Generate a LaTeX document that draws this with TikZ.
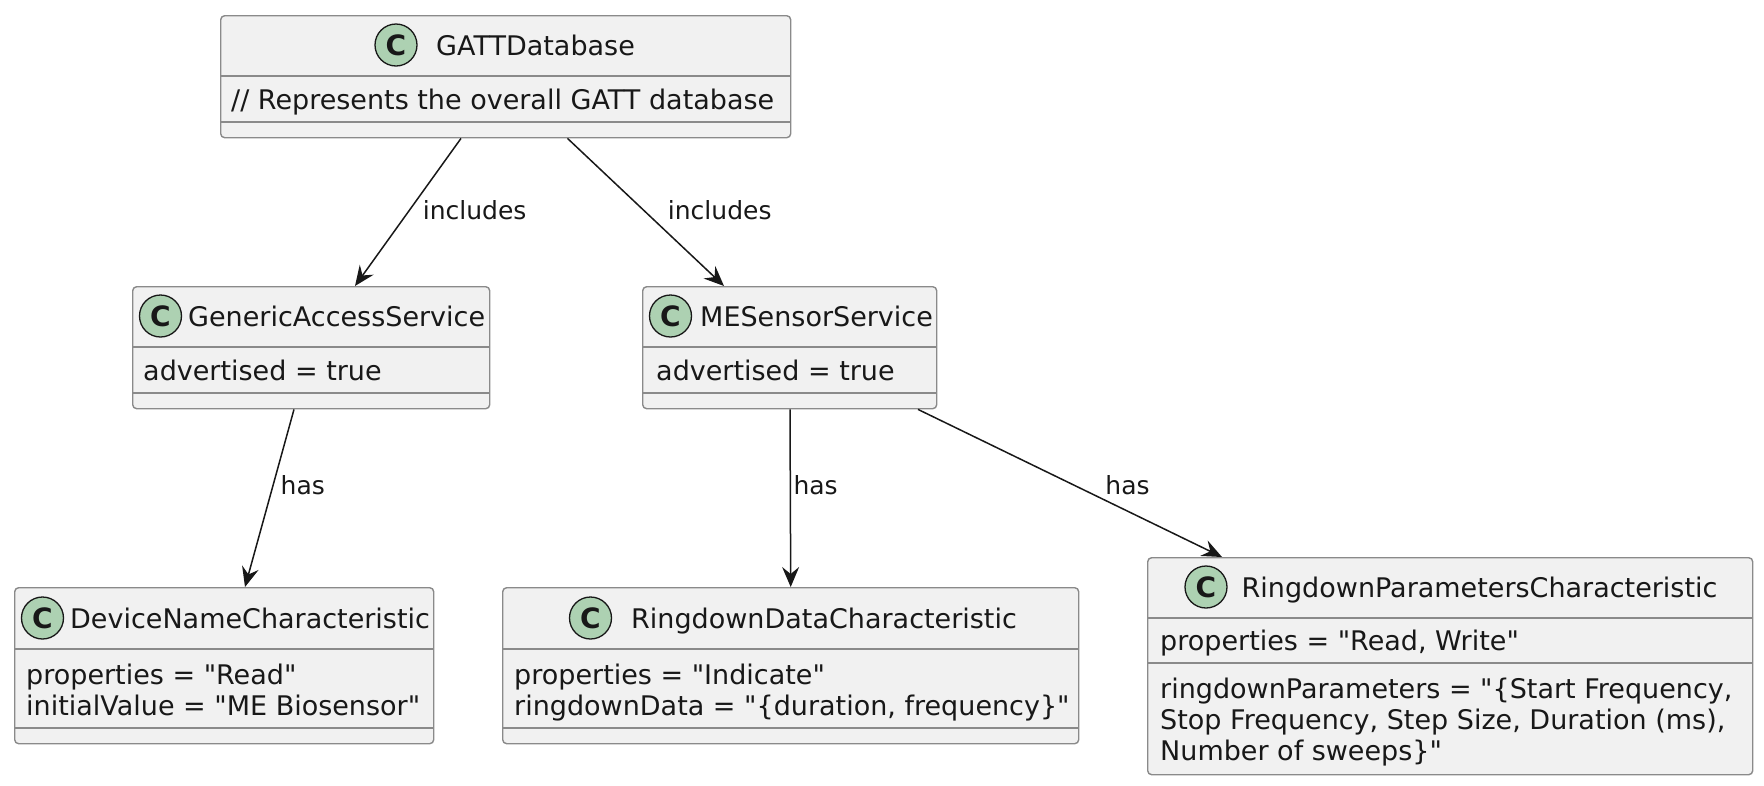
\documentclass[tikz,border=0pt]{standalone}
\usepackage{fontspec}
\setmainfont{DejaVu Sans}[Ligatures=TeXOff]
\usepackage{tikz}
\usetikzlibrary{arrows.meta,positioning}
\definecolor{boxfill}{HTML}{F1F1F1}
\definecolor{boxline}{HTML}{8A8A8A}
\definecolor{ink}{HTML}{181818}
\definecolor{classgreen}{HTML}{ADD1B2}
\tikzset{
  classbox/.style={draw=boxline, fill=boxfill, rounded corners=4pt, line width=1.4pt,
                   anchor=north west, inner sep=0pt},
  sepline/.style={draw=boxline, line width=1.4pt},
  badge/.style={circle, draw=ink, fill=classgreen, line width=1.3pt, minimum size=42pt,
                inner sep=0pt, font=\fontsize{28}{28}\selectfont\bfseries, text=ink},
  cname/.style={anchor=base west, inner sep=0pt, font=\fontsize{27}{31}\selectfont, text=ink},
  attr/.style={cname, align=left},
  arrow/.style={-{Stealth[length=20pt, width=17pt, inset=7pt]}, line width=1.5pt, draw=ink},
  lbl/.style={anchor=west, inner sep=0pt, text height=18pt, text depth=0pt,
              font=\fontsize{25}{30}\selectfont, text=ink}
}

\begin{document}
\begin{tikzpicture}[x=1pt, y=-1pt]
  \useasboundingbox (0,0) rectangle (1764,785);

  % class boxes, corners taken from the layout (y grows downwards)
  \node[classbox, minimum width=570pt, minimum height=122pt] (gatt) at (220,15) {};
  \node[classbox, minimum width=357pt, minimum height=122pt] (gas) at (132,286) {};
  \node[classbox, minimum width=294pt, minimum height=122pt] (mes) at (642,286) {};
  \node[classbox, minimum width=419pt, minimum height=156pt] (devname) at (14,587) {};
  \node[classbox, minimum width=576pt, minimum height=156pt] (rdata) at (502,587) {};
  \node[classbox, minimum width=605pt, minimum height=217pt] (rparams) at (1147,557) {};

  \draw[sepline] (gatt.west |- 0,76) -- (gatt.east |- 0,76);
  \draw[sepline] (gatt.west |- 0,122) -- (gatt.east |- 0,122);
  \draw[sepline] (gas.west |- 0,347) -- (gas.east |- 0,347);
  \draw[sepline] (gas.west |- 0,393) -- (gas.east |- 0,393);
  \draw[sepline] (mes.west |- 0,347) -- (mes.east |- 0,347);
  \draw[sepline] (mes.west |- 0,393) -- (mes.east |- 0,393);
  \draw[sepline] (devname.west |- 0,649) -- (devname.east |- 0,649);
  \draw[sepline] (devname.west |- 0,728) -- (devname.east |- 0,728);
  \draw[sepline] (rdata.west |- 0,649) -- (rdata.east |- 0,649);
  \draw[sepline] (rdata.west |- 0,728) -- (rdata.east |- 0,728);
  \draw[sepline] (rparams.west |- 0,618) -- (rparams.east |- 0,618);
  \draw[sepline] (rparams.west |- 0,663) -- (rparams.east |- 0,663);

  \node[badge] (gattC) at (396,45) {C};
  \node[cname] (gattT) at (436,55) {GATTDatabase};
  \node[attr] (gattA) at (231,109) {// Represents the overall GATT database};

  \node[badge] (gasC) at (160.5,316) {C};
  \node[cname] (gasT) at (188,326) {GenericAccessService};
  \node[attr] (gasA) at (143,380) {advertised = true};

  \node[badge] (mesC) at (670.5,316) {C};
  \node[cname] (mesT) at (700,326) {MESensorService};
  \node[attr] (mesA) at (656,380) {advertised = true};

  % multi-line texts sit on the baseline of their last line
  \node[badge] (devnameC) at (42.5,618) {C};
  \node[cname] (devnameT) at (70,628) {DeviceNameCharacteristic};
  \node[attr] (devnameA) at (26,715) {properties = "Read"\\initialValue = "ME Biosensor"};

  \node[badge] (rdataC) at (590.5,618) {C};
  \node[cname] (rdataT) at (631,628) {RingdownDataCharacteristic};
  \node[attr] (rdataA) at (514,715) {properties = "Indicate"\\ringdownData = "\{duration, frequency\}"};

  \node[badge] (rparamsC) at (1206,587) {C};
  \node[cname] (rparamsT) at (1241.5,597) {RingdownParametersCharacteristic};
  \node[attr] (rparamsA) at (1160,650) {properties = "Read, Write"};
  \node[attr] (rparamsM) at (1160,760)
       {ringdownParameters = "\{Start Frequency,\\Stop Frequency, Step Size, Duration (ms),\\Number of sweeps\}"};

  \draw[arrow] ([xshift=241pt]gatt.south west) --
       node[lbl, pos=.49, xshift=13pt] {includes} ([xshift=223pt]gas.north west);
  \draw[arrow] ([xshift=347.5pt]gatt.south west) --
       node[lbl, pos=.49, xshift=23pt] {includes} ([xshift=82pt]mes.north west);
  \draw[arrow] ([xshift=162pt]gas.south west) --
       node[lbl, pos=.43, xshift=7pt] {has} ([xshift=231pt]devname.north west);
  \draw[arrow] ([xshift=148pt]mes.south west) --
       node[lbl, pos=.43, xshift=2.5pt] {has} (rdata.north);
  \draw[arrow] ([xshift=276pt]mes.south west) --
       node[lbl, pos=.517, xshift=29.5pt] {has} ([xshift=75pt]rparams.north west);
\end{tikzpicture}
\end{document}
